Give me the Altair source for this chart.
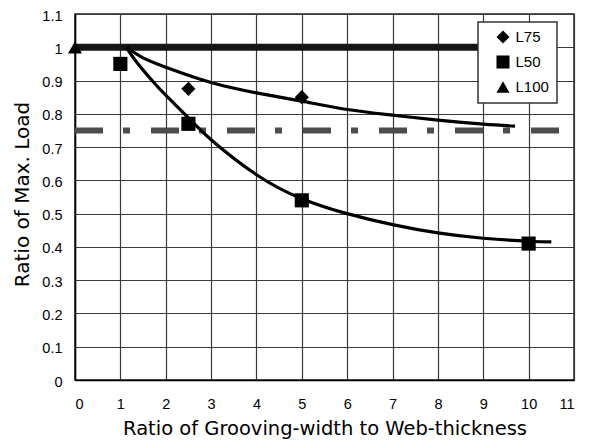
import altair as alt
import pandas as pd

# measured points
l75_x = [2.5, 5]
l75_y = [0.875, 0.85]
l50_x = [1, 2.5, 5, 10]
l50_y = [0.95, 0.77, 0.54, 0.41]
l100_x = [0]
l100_y = [1.0]

# fitted curves
fit75_x = [1.13, 1.5, 2, 3, 4, 5, 6, 7, 8, 9, 9.7]
fit75_y = [1.0, 0.968, 0.94, 0.894, 0.863, 0.838, 0.813, 0.796, 0.781, 0.769, 0.763]
fit50_x = [1.13, 1.4, 1.7, 2, 2.5, 3, 4, 5, 6, 7, 8, 9, 10, 10.5]
fit50_y = [1.0, 0.948, 0.9, 0.856, 0.788, 0.722, 0.617, 0.545, 0.5, 0.467, 0.442, 0.426, 0.417, 0.415]

# reference lines
ref_full_x = [0, 9]
ref_full_y = [1.0, 1.0]
ref_dash_x = [0, 11]
ref_dash_y = [0.75, 0.75]

series_order = ["L75", "L50", "L100"]
shapes = ["diamond", "square", "triangle-up"]
y_ticks = [0, 0.1, 0.2, 0.3, 0.4, 0.5, 0.6, 0.7, 0.8, 0.9, 1.0, 1.1]
x_ticks = [0, 1, 2, 3, 4, 5, 6, 7, 8, 9, 10, 11]

pts = pd.DataFrame(
    {
        "x": l75_x + l50_x + l100_x,
        "y": l75_y + l50_y + l100_y,
        "series": ["L75"] * len(l75_x) + ["L50"] * len(l50_x) + ["L100"] * len(l100_x),
    }
)
fits = pd.DataFrame(
    {
        "x": fit75_x + fit50_x,
        "y": fit75_y + fit50_y,
        "fit": ["L75"] * len(fit75_x) + ["L50"] * len(fit50_x),
    }
)
full_df = pd.DataFrame({"x": ref_full_x, "y": ref_full_y})
dash_df = pd.DataFrame({"x": ref_dash_x, "y": ref_dash_y})

FONT = "Liberation Sans"
TFONT = "DejaVu Sans"

xscale = alt.Scale(domain=[0, 11], nice=False, zero=False)
yscale = alt.Scale(domain=[0, 1.1], nice=False, zero=False)

xax = alt.Axis(
    values=x_ticks,
    title="Ratio of Grooving-width to Web-thickness",
    titleFont=TFONT,
    titleFontSize=19.5,
    titleFontWeight="normal",
    titleColor="black",
    titleBaseline="alphabetic",
    titleY=54,
    labelFont=FONT,
    labelFontSize=14.5,
    labelColor="black",
    labelBaseline="middle",
    labelPadding=24,
    labelOverlap=False,
    ticks=False,
    tickSize=0,
    grid=True,
    gridColor="#3a3a3a",
    gridWidth=1.2,
    domainColor="black",
    domainWidth=1.5,
)
yax = alt.Axis(
    values=y_ticks,
    format="~g",
    title="Ratio of Max. Load",
    titleFont=TFONT,
    titleFontSize=20,
    titleFontWeight="normal",
    titleColor="black",
    titleAlign="center",
    titleBaseline="middle",
    titleAngle=270,
    titleX=-53,
    titleY=180,
    labelFont=FONT,
    labelFontSize=14.5,
    labelColor="black",
    labelPadding=13,
    labelOffset=2,
    labelOverlap=False,
    ticks=False,
    tickSize=0,
    grid=True,
    gridColor="#3a3a3a",
    gridWidth=1.2,
    domainColor="black",
    domainWidth=1.5,
)

X = alt.X("x:Q", scale=xscale, axis=xax)
Y = alt.Y("y:Q", scale=yscale, axis=yax)

full_line = alt.Chart(full_df).mark_line(color="#151515", strokeWidth=7, strokeCap="butt").encode(
    x=X, y=Y
)
dash_line = alt.Chart(dash_df).mark_line(
    color="#4d4d4d", strokeWidth=6, strokeDash=[28, 20, 7, 21], strokeCap="butt"
).encode(x=X, y=Y)

fit_lines = alt.Chart(fits).mark_line(color="black", strokeWidth=3.2, interpolate="natural").encode(
    x=X,
    y=Y,
    detail="fit:N",
)

points = alt.Chart(pts).mark_point(filled=True, opacity=1, size=200, color="black").encode(
    x=X,
    y=Y,
    shape=alt.Shape(
        "series:N",
        scale=alt.Scale(domain=series_order, range=shapes),
        sort=series_order,
        legend=alt.Legend(
            title=None,
            orient="none",
            legendX=403,
            legendY=8,
            padding=7.5,
            symbolOffset=10,
            symbolSize=170,
            symbolFillColor="black",
            symbolStrokeColor="black",
            symbolStrokeWidth=0,
            labelFont=FONT,
            labelFontSize=15,
            labelColor="black",
            labelOffset=5,
            rowPadding=9,
            strokeColor="#333",
            fillColor="white",
        ),
    ),
)

chart = (
    alt.layer(full_line, dash_line, fit_lines, points)
    .properties(
        width=499,
        height=366,
        autosize=alt.AutoSizeParams(type="none"),
        padding={"left": 67, "top": 6, "right": 6, "bottom": 60},
    )
    .configure_view(stroke="#222", strokeWidth=1.5)
    .configure_legend(strokeWidth=1.5)
)

chart.save("out.html", embed_options={"renderer": "svg", "actions": False})
